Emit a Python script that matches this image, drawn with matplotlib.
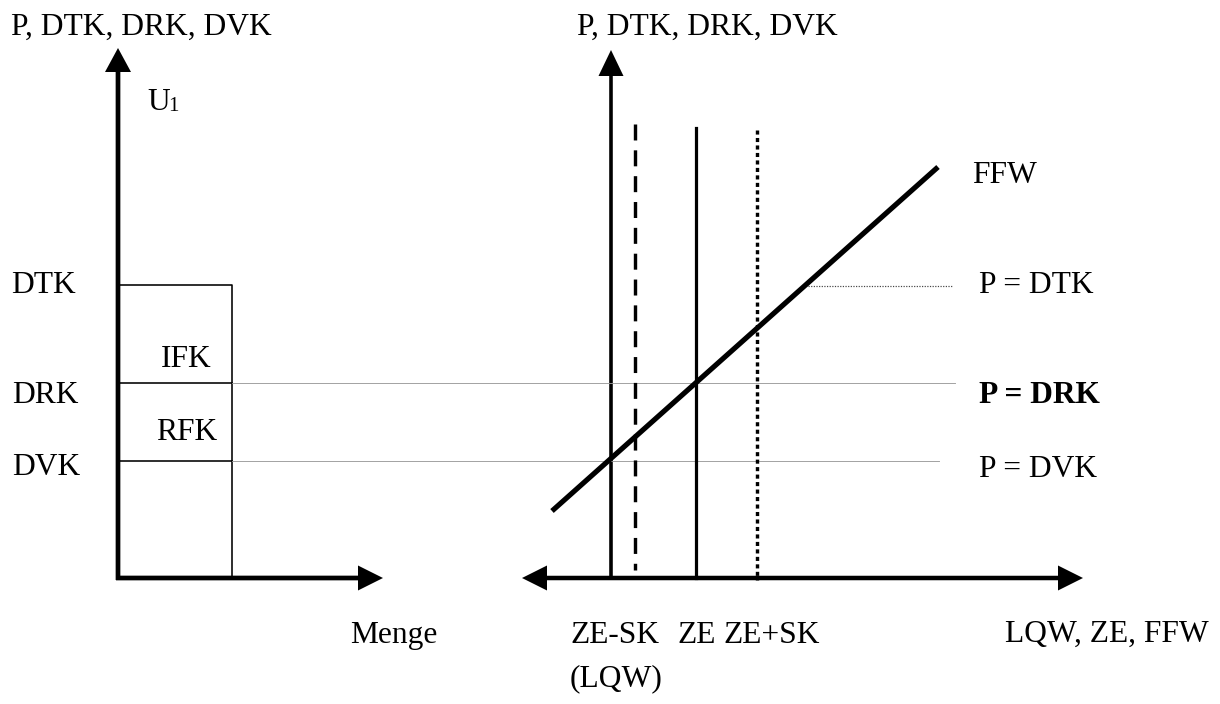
import matplotlib
matplotlib.use("Agg")
import matplotlib.pyplot as plt

# ---- data (diagram coordinates in pixel space of a 1220x704 canvas) ----
price_levels = {"DTK": 285, "DRK": 383, "DVK": 461}   # vertical positions of cost levels
axis_bottom = 578
left_axis_x = 118
bar_right_x = 232
right_axis_x = 611           # ZE-SK (LQW)
ze_x = 696                   # ZE
ze_minus_dash_x = 635        # dashed line
ze_plus_sk_x = 757           # ZE+SK dotted
ffw_x = [552, 938]
ffw_y = [511, 167]
drk_line_end = 955
dvk_line_end = 939
dtk_dotted = [808, 953]

fig = plt.figure(figsize=(12.2, 7.04), dpi=100)
ax = fig.add_axes([0, 0, 1, 1])
ax.set_xlim(0, 1220)
ax.set_ylim(704, 0)
ax.axis("off")

FONT = ["Liberation Serif", "DejaVu Serif"]
FS = 22.7
px = 72 / 100.0  # points per pixel

# ---- left panel ----
ax.arrow(left_axis_x, axis_bottom + 2, 0, 48 - (axis_bottom + 2), width=4.7,
         head_width=26, head_length=24, length_includes_head=True, color="k", lw=0)
ax.arrow(left_axis_x - 2, axis_bottom, 383 - (left_axis_x - 2), 0, width=4.7,
         head_width=25, head_length=25, length_includes_head=True, color="k", lw=0)

# bar outline
ax.plot([left_axis_x, bar_right_x, bar_right_x],
        [price_levels["DTK"], price_levels["DTK"], axis_bottom], color="k", lw=1.6 * px)
for k in ("DRK", "DVK"):
    ax.plot([left_axis_x, bar_right_x], [price_levels[k]] * 2, color="k", lw=1.6 * px)

# thin grey guide lines
ax.plot([bar_right_x, drk_line_end], [price_levels["DRK"]] * 2, color="#9a9a9a", lw=0.9 * px)
ax.plot([bar_right_x, dvk_line_end], [price_levels["DVK"]] * 2, color="#9a9a9a", lw=0.9 * px)
ax.plot(dtk_dotted, [price_levels["DTK"] + 0.7] * 2, color="#444444", lw=1.2 * px,
        linestyle=(0, (1, 1.2)))

# ---- right panel ----
ax.arrow(right_axis_x, axis_bottom + 2, 0, 50 - (axis_bottom + 2), width=3.6,
         head_width=25, head_length=26, length_includes_head=True, color="k", lw=0)
mid = 800
ax.arrow(mid, axis_bottom, 1083 - mid, 0, width=4.5,
         head_width=25, head_length=25, length_includes_head=True, color="k", lw=0)
ax.arrow(mid, axis_bottom, 522 - mid, 0, width=4.5,
         head_width=25, head_length=25, length_includes_head=True, color="k", lw=0)

ax.plot([ze_minus_dash_x] * 2, [124, 570], color="k", lw=3.4 * px,
        linestyle=(0, (4.7, 2.9)))
ax.plot([ze_x] * 2, [128, axis_bottom], color="k", lw=3.2 * px)
ax.plot([ze_plus_sk_x] * 2, [130, 580], color="k", lw=3.4 * px,
        linestyle=(0, (1.2, 1.0)))

ax.plot(ffw_x, ffw_y, color="k", lw=5.2 * px, solid_capstyle="butt")

# ---- texts ----
def t(x, y, s, **kw):
    ax.text(x, y, s, family=FONT, fontsize=kw.pop("fontsize", FS), ha="left",
            va="baseline", color="k", **kw)

t(11, 35, "P, DTK, DRK, DVK")
t(577, 35, "P, DTK, DRK, DVK")
t(147, 110, "U")
t(168, 111, "1", fontsize=15)
t(11, 293, "DTK")
t(12, 403, "DRK")
t(12, 475, "DVK")
t(161, 367, "IFK")
t(156, 440, "RFK")
t(972, 183, "FFW")
t(979, 293, "P = DTK")
t(979, 403, "P = DRK", fontweight="bold")
t(979, 477, "P = DVK")
t(350, 643, "Menge")
t(570, 643, "ZE-SK")
t(677, 643, "ZE")
t(723, 643, "ZE+SK")
t(570, 686, "(LQW)")
t(1005, 642, "LQW, ZE, FFW")

fig.savefig("out.png", dpi=100)
